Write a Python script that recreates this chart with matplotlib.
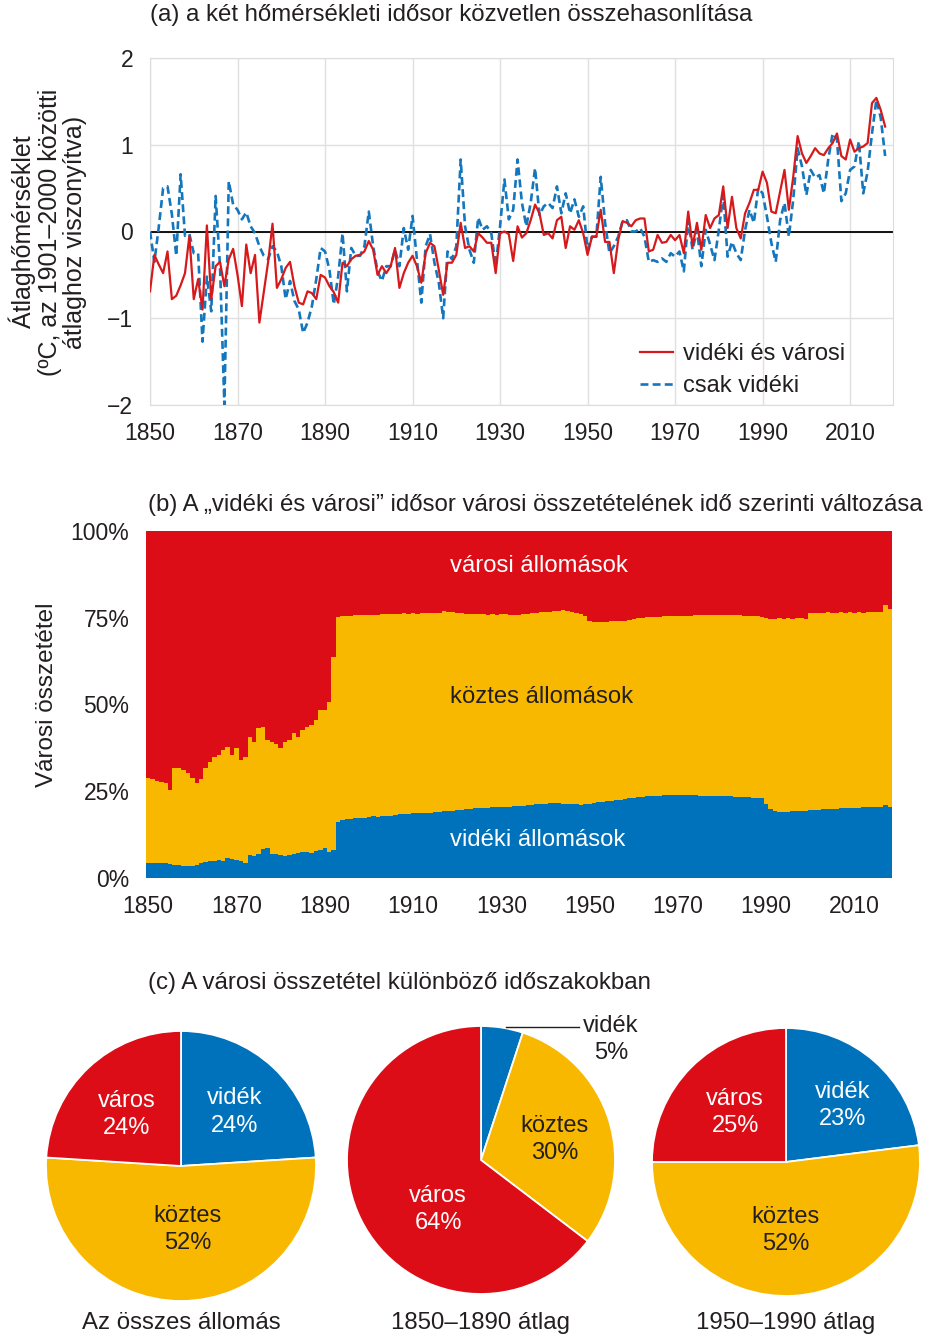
import numpy as np
import matplotlib.pyplot as plt

plt.rcParams['font.family'] = ['Liberation Sans', 'DejaVu Sans']

# ---- data -----------------------------------------------------------------
years = np.arange(1850, 2019)

# (a) temperature anomalies, degC relative to 1901-2000
urban_rural = [
    -0.69, -0.27, -0.38, -0.48, -0.23, -0.78, -0.74, -0.62, -0.48, -0.05,   # 1850
    -0.78, -0.55, -0.90, 0.07, -0.78, -0.40, -0.35, -0.63, -0.32, -0.20,    # 1860
    -0.50, -0.86, -0.15, -0.48, -0.27, -1.05, -0.70, -0.35, 0.09, -0.65,    # 1870
    -0.55, -0.42, -0.35, -0.63, -0.82, -0.84, -0.69, -0.71, -0.78, -0.50,   # 1880
    -0.53, -0.63, -0.70, -0.82, -0.36, -0.40, -0.32, -0.28, -0.27, -0.23,   # 1890
    -0.11, -0.21, -0.50, -0.40, -0.48, -0.40, -0.19, -0.65, -0.48, -0.36,   # 1900
    -0.28, -0.40, -0.59, -0.25, -0.13, -0.17, -0.44, -0.73, -0.36, -0.36,   # 1910
    -0.27, 0.10, -0.19, -0.17, -0.23, -0.02, -0.07, -0.13, -0.13, -0.48,    # 1920
    -0.02, 0.00, -0.03, -0.34, 0.06, -0.07, -0.02, 0.13, 0.31, 0.21,        # 1930
    -0.04, -0.02, -0.08, 0.13, 0.17, -0.19, 0.06, 0.02, 0.13, -0.02,        # 1940
    -0.27, -0.06, -0.06, 0.25, -0.12, -0.12, -0.48, -0.10, 0.12, 0.10,      # 1950
    0.06, 0.13, 0.15, 0.15, -0.23, -0.21, -0.04, -0.13, -0.12, -0.04,       # 1960
    -0.10, -0.04, -0.25, 0.23, -0.17, 0.10, -0.21, 0.19, 0.04, 0.15,        # 1970
    0.19, 0.52, 0.04, 0.40, 0.04, -0.08, 0.21, 0.33, 0.48, 0.48,            # 1980
    0.69, 0.56, 0.23, 0.21, 0.46, 0.71, 0.25, 0.63, 1.10, 0.90,             # 1990
    0.79, 0.87, 0.96, 0.90, 0.88, 0.96, 1.02, 1.13, 0.87, 0.83,             # 2000
    1.06, 0.92, 0.96, 0.98, 1.02, 1.48, 1.54, 1.40, 1.21,                   # 2010
]
rural_only = [
    0.00, -0.35, 0.05, 0.50, 0.52, 0.20, -0.28, 0.66, -0.05, -0.03,         # 1850
    -0.25, -0.25, -1.27, -0.52, -0.92, 0.41, -0.40, -2.00, 0.58, 0.31,      # 1860
    0.25, 0.14, 0.22, 0.06, -0.02, -0.17, -0.28, -0.32, -0.17, -0.23,       # 1870
    -0.40, -0.78, -0.57, -0.80, -0.90, -1.17, -1.05, -0.86, -0.55, -0.19,   # 1880
    -0.23, -0.44, -0.84, -0.52, -0.02, -0.69, -0.19, -0.28, -0.28, -0.17,   # 1890
    0.23, -0.17, -0.46, -0.57, -0.40, -0.40, -0.21, -0.40, 0.04, -0.21,     # 1900
    0.18, -0.32, -0.82, -0.17, -0.03, -0.36, -0.59, -1.00, -0.23, -0.32,    # 1910
    -0.17, 0.83, 0.06, -0.21, -0.36, 0.16, 0.02, 0.06, -0.02, -0.40,        # 1920
    0.06, 0.60, 0.14, 0.25, 0.83, 0.33, 0.06, 0.33, 0.73, 0.19,             # 1930
    0.29, 0.33, 0.27, 0.52, 0.21, 0.44, 0.21, 0.37, 0.17, 0.29,             # 1940
    -0.21, -0.06, -0.06, 0.63, 0.10, -0.25, -0.17, -0.06, 0.12, 0.13,       # 1950
    0.00, 0.00, 0.04, -0.06, -0.35, -0.33, -0.35, -0.31, -0.35, -0.25,      # 1960
    -0.29, -0.23, -0.46, 0.13, -0.21, 0.02, -0.40, 0.02, -0.15, -0.33,      # 1970
    0.02, 0.42, -0.29, -0.12, -0.25, -0.33, 0.02, 0.25, 0.10, 0.50,         # 1980
    0.44, 0.17, -0.13, -0.35, 0.13, 0.33, -0.06, 0.37, 0.96, 0.75,          # 1990
    0.42, 0.71, 0.62, 0.65, 0.44, 0.83, 1.13, 1.06, 0.35, 0.44,             # 2000
    0.71, 0.75, 1.04, 0.44, 0.69, 1.13, 1.52, 1.31, 0.87,                   # 2010
]

# (b) station mix of the urban+rural series, % (cumulative boundaries)
rural_pct = [
    4.4, 4.4, 4.3, 4.3, 4.2, 4.0, 3.8, 3.7, 3.6, 3.6,
    3.5, 3.7, 4.2, 4.6, 5.0, 4.8, 5.2, 5.0, 5.8, 5.4,
    5.2, 4.8, 4.2, 6.6, 6.2, 6.8, 8.3, 8.6, 7.0, 6.8,
    6.6, 6.4, 6.6, 7.0, 7.2, 7.4, 7.6, 7.2, 7.8, 8.0,
    8.6, 7.6, 8.0, 16.2, 16.6, 17.0, 17.1, 17.2, 17.3, 17.4,
    17.6, 17.8, 17.7, 17.9, 18.0, 18.0, 18.2, 18.3, 18.3, 18.5,
    18.6, 18.6, 18.7, 18.8, 18.8, 19.0, 19.1, 19.2, 19.2, 19.4,
    19.5, 19.6, 19.8, 19.9, 20.1, 20.2, 20.2, 20.3, 20.4, 20.5,
    20.5, 20.6, 20.6, 20.7, 20.7, 20.8, 21.0, 21.1, 21.2, 21.3,
    21.4, 21.5, 21.6, 21.5, 21.4, 21.3, 21.2, 21.2, 21.1, 21.2,
    21.4, 21.6, 21.8, 22.0, 22.1, 22.3, 22.5, 22.6, 22.8, 23.0,
    23.1, 23.3, 23.4, 23.5, 23.6, 23.6, 23.7, 23.8, 23.9, 23.9,
    24.0, 23.9, 23.9, 23.8, 23.8, 23.7, 23.7, 23.6, 23.6, 23.6,
    23.6, 23.5, 23.5, 23.4, 23.4, 23.3, 23.2, 23.1, 23.0, 23.0,
    21.2, 19.8, 19.3, 19.1, 19.0, 19.1, 19.2, 19.2, 19.3, 19.4,
    19.5, 19.6, 19.7, 19.8, 19.9, 20.0, 20.0, 20.1, 20.2, 20.2,
    20.3, 20.3, 20.4, 20.4, 20.5, 20.5, 20.6, 21.0, 20.6,
]
rural_mid_pct = [
    28.7, 28.4, 28.0, 27.6, 27.3, 25.4, 31.6, 31.6, 31.0, 30.2,
    28.7, 27.3, 28.6, 31.6, 33.5, 35.0, 35.4, 36.8, 37.8, 35.4,
    37.4, 34.0, 35.0, 40.7, 39.3, 43.1, 43.6, 39.8, 39.3, 38.5,
    37.4, 39.3, 39.8, 41.7, 40.7, 42.6, 43.6, 44.0, 45.5, 48.4,
    48.4, 50.8, 63.8, 75.3, 75.4, 75.6, 75.5, 75.7, 75.8, 75.7,
    75.8, 75.9, 75.8, 76.0, 76.1, 76.0, 76.2, 76.1, 76.3, 76.2,
    76.3, 76.2, 76.4, 76.3, 76.5, 76.3, 76.4, 77.0, 76.8, 76.6,
    76.4, 76.3, 76.2, 76.1, 76.0, 76.1, 76.0, 75.9, 76.0, 75.9,
    76.0, 76.0, 75.9, 75.9, 75.8, 76.0, 76.1, 76.3, 76.4, 76.6,
    76.7, 76.8, 76.9, 77.0, 77.2, 76.9, 76.6, 76.4, 76.0, 75.6,
    74.0, 73.8, 73.8, 73.9, 73.9, 74.0, 74.0, 74.1, 74.2, 74.3,
    74.6, 74.8, 75.0, 75.1, 75.2, 75.3, 75.3, 75.4, 75.4, 75.5,
    75.5, 75.6, 75.6, 75.6, 75.7, 75.7, 75.8, 75.8, 75.8, 75.9,
    75.9, 75.9, 75.8, 75.8, 75.7, 75.6, 75.6, 75.5, 75.4, 75.3,
    74.8, 74.7, 74.7, 74.8, 74.7, 74.8, 74.7, 74.8, 74.8, 74.7,
    76.4, 76.3, 76.5, 76.4, 76.6, 76.5, 76.4, 76.6, 76.5, 76.6,
    76.5, 76.6, 76.5, 76.6, 76.7, 76.6, 76.8, 78.7, 77.4,
]
total_pct = [100.0] * len(years)

# (c) pies: rural, intermediate, urban
pie_names = ['vidék', 'köztes', 'város']
pie_all = [24, 52, 24]
pie_1850_1890 = [5, 30, 64]
pie_1950_1990 = [23, 52, 25]

RED = '#dc0d16'
YELLOW = '#f9b800'
BLUE = '#0071bb'
TXT = '#231f20'
FS = 17.3      # titles and captions
TICK_FS = 16.5

W, H = 929, 1338
fig = plt.figure(figsize=(W / 100, H / 100), dpi=100)


def box(left, top, right, bottom):
    return [left / W, 1 - bottom / H, (right - left) / W, (bottom - top) / H]


# ---- (a) ------------------------------------------------------------------
ax1 = fig.add_axes(box(150, 58, 893, 405))
ax1.plot(years, rural_only, color='#1477bd', lw=1.9, ls=(0, (3, 1.6)),
         label='csak vidéki', zorder=3)
ax1.plot(years, urban_rural, color='#d7191c', lw=1.6,
         label='vidéki és városi', zorder=4)
ax1.axhline(0, color='black', lw=1.3, zorder=2)
ax1.set_xlim(1850, 2019.8)
ax1.set_ylim(-2, 2)
ax1.set_xticks(range(1850, 2011, 20))
ax1.set_yticks([-2, -1, 0, 1, 2])
ax1.grid(color='#e0e0e0', lw=1)
ax1.set_axisbelow(True)
ax1.tick_params(length=0, labelsize=TICK_FS, colors=TXT, pad=12)
for s in ax1.spines.values():
    s.set_color('#dcdcdc')
h, l = ax1.get_legend_handles_labels()
ax1.legend(h[::-1], l[::-1], loc='upper left', bbox_to_anchor=(0.659, 0.178),
           frameon=False, fontsize=17, borderpad=0, borderaxespad=0,
           handlelength=1.4, handletextpad=0.45, labelspacing=0.42,
           labelcolor=TXT)
fig.text(150 / W, 1 - 15 / H,
         '(a) a két hőmérsékleti idősor közvetlen összehasonlítása',
         ha='left', va='center', fontsize=FS, color=TXT)
fig.text(48 / W, 1 - 232 / H,
         'Átlaghőmérséklet\n(ºC, az 1901–2000 közötti\nátlaghoz viszonyítva)',
         rotation=90, ha='center', va='center', fontsize=18,
         color=TXT, linespacing=1.08)

# ---- (b) ------------------------------------------------------------------
ax2 = fig.add_axes(box(146, 531, 892, 878))
edges = np.arange(1849.5, 2019.0, 1.0)
ax2.stairs(total_pct, edges, baseline=0, fill=True, color=RED, lw=0)
ax2.stairs(rural_mid_pct, edges, baseline=0, fill=True, color=YELLOW, lw=0)
ax2.stairs(rural_pct, edges, baseline=0, fill=True, color=BLUE, lw=0)
ax2.set_xlim(1849.5, 2018.5)
ax2.set_ylim(0, 100)
ax2.set_xticks(range(1850, 2011, 20))
ax2.set_yticks([0, 25, 50, 75, 100])
ax2.set_yticklabels(['0%', '25%', '50%', '75%', '100%'])
ax2.tick_params(length=0, labelsize=TICK_FS, colors=TXT, pad=12)
for s in ax2.spines.values():
    s.set_visible(False)
ax2.text(1938.5, 90, 'városi állomások', color='white', ha='center',
         va='center', fontsize=17.2)
ax2.text(1939.2, 52.2, 'köztes állomások', color=TXT, ha='center',
         va='center', fontsize=17.2)
ax2.text(1938.3, 11, 'vidéki állomások', color='white', ha='center',
         va='center', fontsize=17.2)
fig.text(148 / W, 1 - 505 / H,
         '(b) A \u201evidéki és városi\u201d idősor városi összetételének '
         'idő szerinti változása',
         ha='left', va='center', fontsize=FS, color=TXT)
fig.text(47 / W, 1 - 695 / H, 'Városi összetétel', rotation=90,
         ha='center', va='center', fontsize=17.5, color=TXT)

# ---- (c) ------------------------------------------------------------------
fig.text(148 / W, 1 - 983 / H,
         '(c) A városi összetétel különböző időszakokban',
         ha='left', va='center', fontsize=FS, color=TXT)

pies = [
    (pie_all, (181, 1166, 135), 'Az összes állomás',
     [(0.40, 0.40), (0.05, -0.47), (-0.40, 0.38)]),
    (pie_1850_1890, (481, 1160, 134), '1850–1890 átlag',
     [None, (0.55, 0.15), (-0.32, -0.37)]),
    (pie_1950_1990, (786, 1162, 134), '1950–1990 átlag',
     [(0.42, 0.42), (0.0, -0.51), (-0.38, 0.37)]),
]
for vals, (cx, cy, r), caption, spots in pies:
    ax = fig.add_axes(box(cx - r, cy - r, cx + r, cy + r))
    ax.pie(vals, colors=[BLUE, YELLOW, RED], startangle=90,
           counterclock=False,
           wedgeprops=dict(edgecolor='white', linewidth=1.3))
    ax.set_xlim(-1, 1)
    ax.set_ylim(-1, 1)
    for name, v, spot in zip(pie_names, vals, spots):
        txt = f'{name}\n{v}%'
        if spot is None:
            ax.plot([0.19, 0.73], [0.99, 0.99], color=TXT, lw=1,
                    clip_on=False)
            ax.text(0.97, 0.90, txt, ha='center', va='center', fontsize=17,
                    color=TXT, linespacing=1.3, clip_on=False)
            continue
        col = TXT if name == 'köztes' else 'white'
        ax.text(spot[0], spot[1], txt, ha='center', va='center',
                fontsize=17, color=col, linespacing=1.3)
    fig.text(cx / W, 1 - 1323 / H, caption, ha='center', va='center',
             fontsize=FS, color=TXT)

fig.savefig('out.png', dpi=100)
